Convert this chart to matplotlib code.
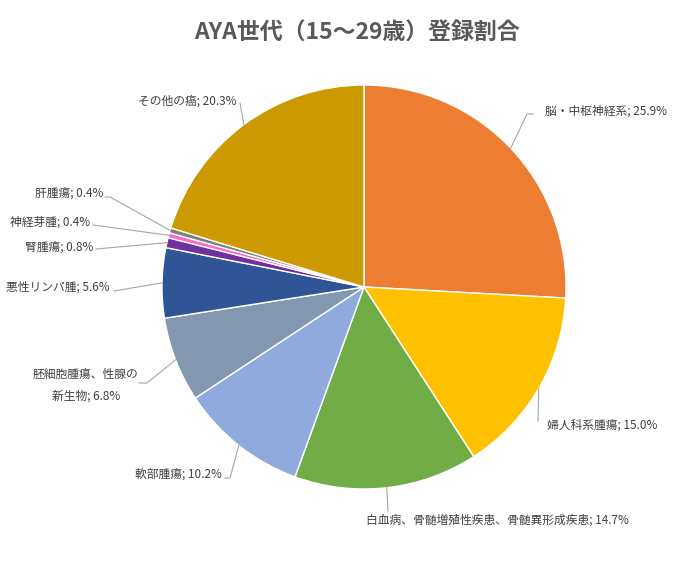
import numpy as np
import matplotlib.pyplot as plt

plt.rcParams['font.family'] = ['Noto Sans CJK JP', 'DejaVu Sans']

# データ（時計回り、12時の位置から）
categories = ['脳・中枢神経系', '婦人科系腫瘍', '白血病、骨髄増殖性疾患、骨髄異形成疾患',
              '軟部腫瘍', '胚細胞腫瘍、性腺の\n新生物', '悪性リンパ腫', '腎腫瘍',
              '神経芽腫', '肝腫瘍', 'その他の癌']
values = [25.9, 15.0, 14.7, 10.2, 6.8, 5.6, 0.8, 0.4, 0.4, 20.3]
colors = ['#ED7D31', '#FFC000', '#70AD47', '#8FAADC', '#8497B0',
          '#2F5597', '#7030A0', '#FF66CC', '#7F7F7F', '#CC9900']

W, H = 681, 586
cx, cy, r = 364, 287, 202

# ラベル配置（ピクセル座標, 上から）: テキスト位置, 揃え, 引き出し線の折れ点
label_pos = [
    ((545, 111), 'left', [(527, 114), (533, 114)]),
    ((547, 425), 'left', [(538, 421)]),
    ((497, 520), 'center', [(388, 511)]),
    ((222, 474), 'right', [(230, 478), (225, 478)]),
    ((86, 385), 'center', [(147, 383), (139, 383)]),
    ((110, 287), 'right', [(114, 291)]),
    ((93, 247), 'right', [(96, 249)]),
    ((90, 222), 'right', [(93, 225)]),
    ((103, 193), 'right', [(110, 197), (105, 197)]),
    ((236, 101), 'right', [(240, 103)]),
]


def px(x, y):
    return x, H - y


fig = plt.figure(figsize=(W / 100, H / 100), dpi=100)
ax = fig.add_axes([0, 0, 1, 1])
ax.pie(values, colors=colors, startangle=90, counterclock=False,
       center=px(cx, cy), radius=r, frame=True,
       wedgeprops=dict(edgecolor='white', linewidth=1.0))
ax.set_xlim(0, W)
ax.set_ylim(0, H)
ax.set_aspect('equal')
ax.axis('off')

total = sum(values)
cum = 0
for cat, v, (tpos, ha, elbows) in zip(categories, values, label_pos):
    mid = 90 - (cum + v / 2) / total * 360
    cum += v
    ex = cx + r * np.cos(np.radians(mid))
    ey = cy - r * np.sin(np.radians(mid))
    pts = [(ex, ey)] + elbows
    xs = [p[0] for p in pts]
    ys = [H - p[1] for p in pts]
    ax.plot(xs, ys, color='#A6A6A6', lw=0.8)
    text = f'{cat}; {v:.1f}%'
    ax.text(*px(*tpos), text, ha=ha, va='center', fontsize=8.5,
            color='#404040', linespacing=1.9, multialignment='center')

ax.text(*px(357, 33), 'AYA世代（15～29歳）登録割合', ha='center', va='center',
        fontsize=16.5, fontweight='bold', color='#595959')

fig.savefig('out.png', dpi=100)
